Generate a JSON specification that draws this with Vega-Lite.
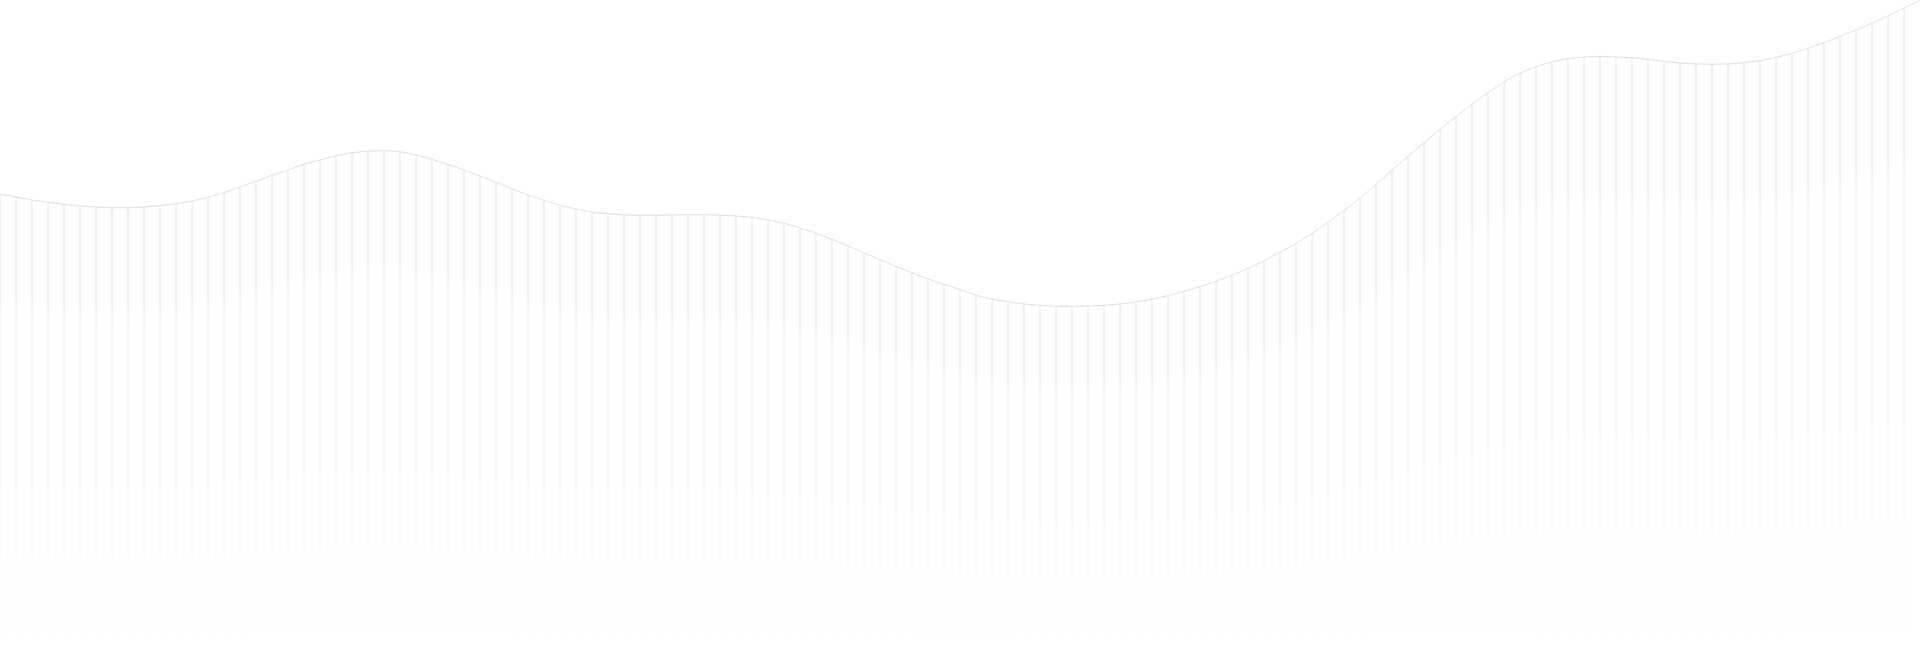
{
  "$schema": "https://vega.github.io/schema/vega-lite/v6.json",
  "description": "Wavy outline with fading vertical hairlines below it.",
  "width": 1920,
  "height": 653,
  "autosize": {"type": "none"},
  "padding": 0,
  "background": "white",
  "config": {"view": {"stroke": null}},
  "data": {
    "values": [
      {"x": 0, "v": 459}, {"x": 16, "v": 456}, {"x": 32, "v": 453}, {"x": 48, "v": 450.7},
      {"x": 64, "v": 448.7}, {"x": 80, "v": 447}, {"x": 96, "v": 446}, {"x": 112, "v": 445.3},
      {"x": 128, "v": 445.3}, {"x": 144, "v": 446}, {"x": 160, "v": 447.3}, {"x": 176, "v": 449.3},
      {"x": 192, "v": 452}, {"x": 208, "v": 455.7}, {"x": 224, "v": 460.3}, {"x": 240, "v": 466},
      {"x": 256, "v": 471.7}, {"x": 272, "v": 477.7}, {"x": 288, "v": 483}, {"x": 304, "v": 488.7},
      {"x": 320, "v": 493}, {"x": 336, "v": 497.3}, {"x": 352, "v": 500.3}, {"x": 368, "v": 501.7},
      {"x": 384, "v": 502.3}, {"x": 400, "v": 501.3}, {"x": 416, "v": 498}, {"x": 432, "v": 493.7},
      {"x": 448, "v": 488.7}, {"x": 464, "v": 483}, {"x": 480, "v": 477}, {"x": 496, "v": 470.7},
      {"x": 512, "v": 464.3}, {"x": 528, "v": 458}, {"x": 544, "v": 452.7}, {"x": 560, "v": 447.7},
      {"x": 576, "v": 444}, {"x": 592, "v": 441}, {"x": 608, "v": 439.3}, {"x": 624, "v": 438},
      {"x": 640, "v": 437.7}, {"x": 656, "v": 437.7}, {"x": 672, "v": 438}, {"x": 688, "v": 438.3},
      {"x": 704, "v": 438.3}, {"x": 720, "v": 437.7}, {"x": 736, "v": 437}, {"x": 752, "v": 435.7},
      {"x": 768, "v": 433}, {"x": 784, "v": 429.7}, {"x": 800, "v": 425}, {"x": 816, "v": 419.7},
      {"x": 832, "v": 413.7}, {"x": 848, "v": 407}, {"x": 864, "v": 400.3}, {"x": 880, "v": 393.3},
      {"x": 896, "v": 386.7}, {"x": 912, "v": 380.3}, {"x": 928, "v": 374}, {"x": 944, "v": 368.7},
      {"x": 960, "v": 363.5}, {"x": 976, "v": 357.7}, {"x": 992, "v": 354}, {"x": 1008, "v": 351.3},
      {"x": 1024, "v": 349}, {"x": 1040, "v": 347.7}, {"x": 1056, "v": 346.7}, {"x": 1072, "v": 346.7},
      {"x": 1088, "v": 347}, {"x": 1104, "v": 347.7}, {"x": 1120, "v": 349}, {"x": 1136, "v": 351},
      {"x": 1152, "v": 354}, {"x": 1168, "v": 357.3}, {"x": 1184, "v": 361.7}, {"x": 1200, "v": 366.3},
      {"x": 1216, "v": 371.7}, {"x": 1232, "v": 377.7}, {"x": 1248, "v": 384.7}, {"x": 1264, "v": 392.3},
      {"x": 1280, "v": 400.8}, {"x": 1296, "v": 409.7}, {"x": 1312, "v": 419.7}, {"x": 1328, "v": 430.7},
      {"x": 1344, "v": 442.3}, {"x": 1360, "v": 455}, {"x": 1376, "v": 468.7}, {"x": 1392, "v": 482.7},
      {"x": 1408, "v": 496.7}, {"x": 1424, "v": 510.3}, {"x": 1440, "v": 523.7}, {"x": 1456, "v": 536.3},
      {"x": 1472, "v": 549}, {"x": 1488, "v": 560.3}, {"x": 1504, "v": 571}, {"x": 1520, "v": 579.7},
      {"x": 1536, "v": 586.3}, {"x": 1552, "v": 591}, {"x": 1568, "v": 594.3}, {"x": 1584, "v": 596},
      {"x": 1600, "v": 596.7}, {"x": 1616, "v": 596}, {"x": 1632, "v": 595.3}, {"x": 1648, "v": 593.7},
      {"x": 1664, "v": 591.7}, {"x": 1680, "v": 590}, {"x": 1696, "v": 589}, {"x": 1712, "v": 588.7},
      {"x": 1728, "v": 589}, {"x": 1744, "v": 590.3}, {"x": 1760, "v": 592.3}, {"x": 1776, "v": 595.7},
      {"x": 1792, "v": 599.7}, {"x": 1808, "v": 604.7}, {"x": 1824, "v": 610.3}, {"x": 1840, "v": 616.7},
      {"x": 1856, "v": 623}, {"x": 1872, "v": 629.7}, {"x": 1888, "v": 637.3}, {"x": 1904, "v": 645},
      {"x": 1920, "v": 652.5}
    ]
  },
  "encoding": {
    "x": {"field": "x", "type": "quantitative", "scale": {"domain": [0, 1920], "nice": false, "zero": false, "padding": 0}, "axis": null},
    "y": {"field": "v", "type": "quantitative", "scale": {"domain": [0, 653], "nice": false, "padding": 0}, "axis": null}
  },
  "layer": [
    {
      "transform": [{"filter": "datum.x < 1920"}],
      "mark": {
        "type": "bar",
        "width": 1,
        "fill": {
          "gradient": "linear",
          "x1": 0, "y1": 0, "x2": 0, "y2": 1,
          "stops": [
            {"offset": 0, "color": "#e3e3e3"},
            {"offset": 0.55, "color": "#eeeeee"},
            {"offset": 1, "color": "#ffffff"}
          ]
        }
      },
      "encoding": {"y2": {"datum": 12}}
    },
    {
      "mark": {"type": "line", "interpolate": "monotone", "stroke": "#e0e0e0", "strokeWidth": 1},
      "encoding": {}
    }
  ]
}
